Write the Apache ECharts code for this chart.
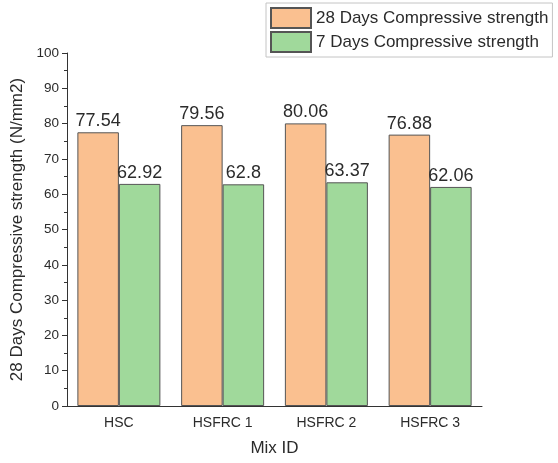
<!DOCTYPE html>
<html>
<head>
<meta charset="utf-8">
<script src="https://cdn.jsdelivr.net/npm/echarts@6/dist/echarts.min.js"></script>
<style>
  html, body { margin: 0; padding: 0; background: #fff; }
  #chart { width: 558px; height: 463px; }
</style>
</head>
<body>
<div id="chart"></div>
<script>
// categories and values
const mixIds = ['HSC', 'HSFRC 1', 'HSFRC 2', 'HSFRC 3'];
const days28 = [77.54, 79.56, 80.06, 76.88];
const days7 = [62.92, 62.8, 63.37, 62.06];
const yTicks = [0, 10, 20, 30, 40, 50, 60, 70, 80, 90, 100];

const chart = echarts.init(document.getElementById('chart'));

const font = 'Arial, "Liberation Sans", sans-serif';
const txt = '#2b2b2b';

const option = {
    backgroundColor: '#fff',
    animation: false,
    grid: { left: 67, right: 76, top: 53, bottom: 57 },
    legend: {
        left: 266,
        top: 3,
        orient: 'vertical',
        icon: 'rect',
        itemWidth: 40,
        itemHeight: 20,
        itemGap: 2,
        padding: [4, 4, 4, 4],
        borderColor: '#c4c4c4',
        borderWidth: 1,
        textStyle: { fontFamily: font, fontSize: 17, color: txt },
        data: ['28 Days Compressive strength', '7 Days Compressive strength']
    },
    xAxis: {
        type: 'category',
        data: mixIds,
        name: 'Mix ID',
        nameLocation: 'middle',
        nameGap: 34,
        nameTextStyle: { fontFamily: font, fontSize: 17, color: txt },
        axisLine: { lineStyle: { color: '#333', width: 1 } },
        axisTick: { alignWithLabel: true, length: 5, lineStyle: { color: '#333' } },
        axisLabel: { fontFamily: font, fontSize: 14, color: txt, margin: 10 }
    },
    yAxis: {
        type: 'value',
        min: yTicks[0],
        max: yTicks[yTicks.length - 1],
        interval: 10,
        name: '28 Days Compressive strength (N/mm2)',
        nameLocation: 'middle',
        nameGap: 40,
        nameTextStyle: { fontFamily: font, fontSize: 17, color: txt },
        splitLine: { show: false },
        axisLine: { show: true, lineStyle: { color: '#333', width: 1 } },
        axisTick: { show: true, length: 5, lineStyle: { color: '#333' } },
        minorTick: { show: true, splitNumber: 2, length: 3, lineStyle: { color: '#333' } },
        axisLabel: { fontFamily: font, fontSize: 13.5, color: txt, margin: 8 }
    },
    series: [
        {
            name: '28 Days Compressive strength',
            type: 'bar',
            data: days28,
            barGap: '0%',
            barCategoryGap: '20%',
            itemStyle: { color: '#FAC090', borderColor: '#555', borderWidth: 1 },
            label: { show: true, position: 'top', distance: 2, fontFamily: font, fontSize: 18, color: txt }
        },
        {
            name: '7 Days Compressive strength',
            type: 'bar',
            data: days7,
            itemStyle: { color: '#A0D99B', borderColor: '#555', borderWidth: 1 },
            label: { show: true, position: 'top', distance: 2, fontFamily: font, fontSize: 18, color: txt }
        }
    ]
};

chart.setOption(option);
</script>
</body>
</html>
